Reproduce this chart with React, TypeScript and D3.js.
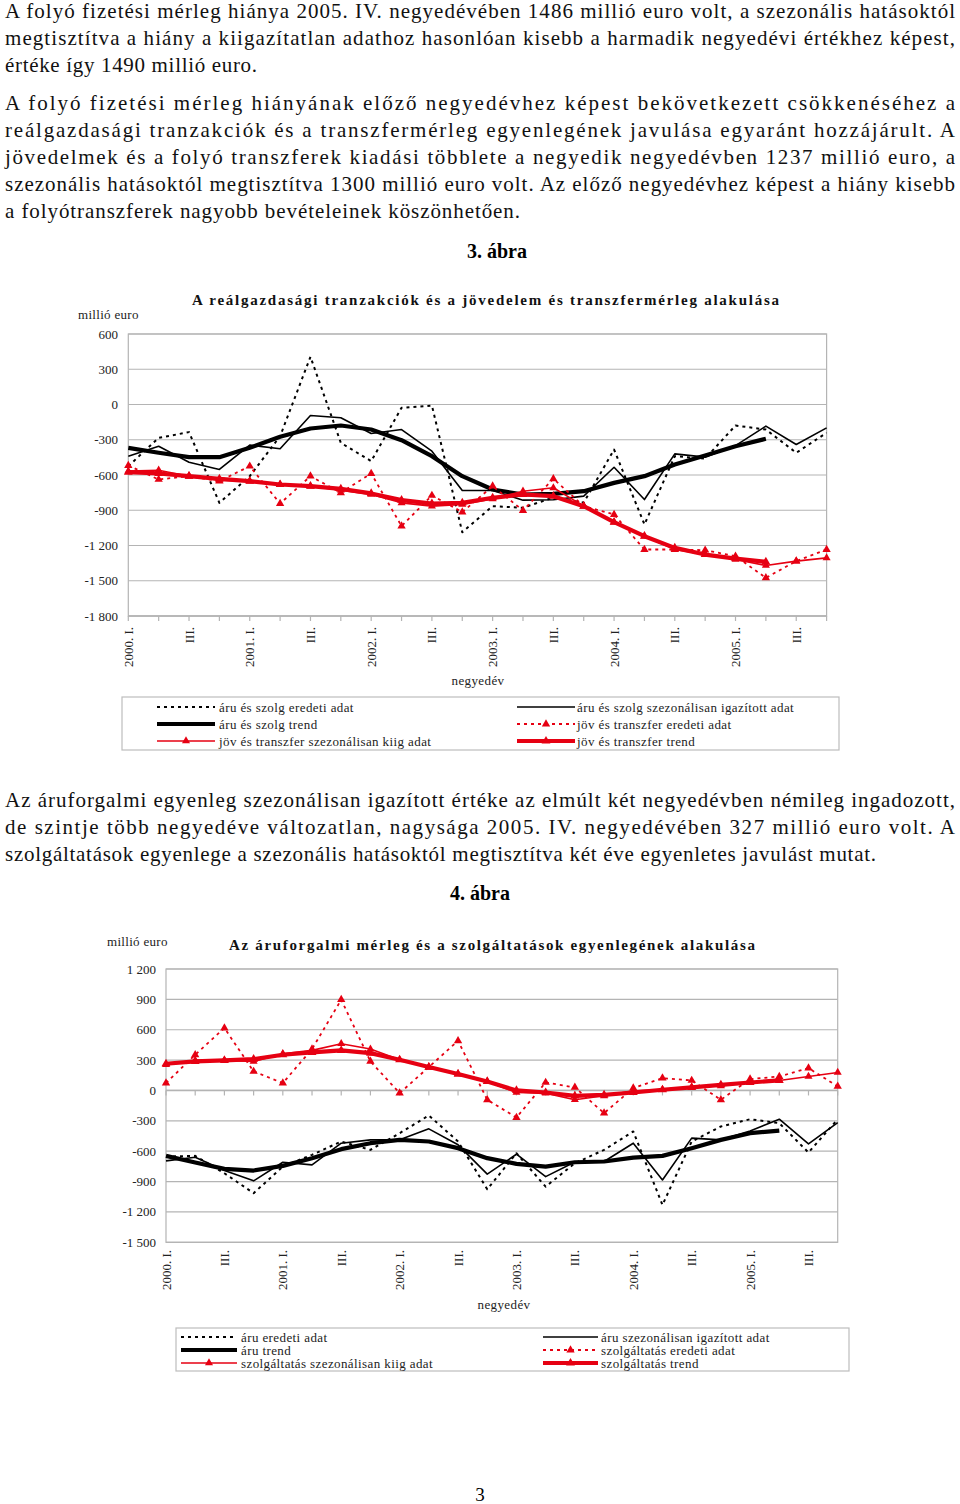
import React from "react";
import * as d3 from "d3";

// ---------- categories ----------
const years = ["2000", "2001", "2002", "2003", "2004", "2005"];
const quarterNames = ["I", "II", "III", "IV"];
const quarterKeys: string[] = years.flatMap((y) => quarterNames.map((q) => `${y}Q${q}`));
const xTickLabels = [
  "2000. I.", "III.", "2001. I.", "III.", "2002. I.", "III.",
  "2003. I.", "III.", "2004. I.", "III.", "2005. I.", "III.",
];

// ---------- chart 3 (ábra) data ----------
const c1Ticks = [600, 300, 0, -300, -600, -900, -1200, -1500, -1800];
const c1TickLabels = ["600", "300", "0", "-300", "-600", "-900", "-1 200", "-1 500", "-1 800"];
const aruSzolgEredeti = [-525, -284, -235, -837, -610, -270, 406, -326, -482, -28, -9, -1087, -865, -879, -792, -835, -383, -1021, -440, -460, -179, -213, -411, -241];
const aruSzolgSA = [-440, -355, -491, -553, -346, -377, -94, -113, -247, -213, -397, -732, -732, -814, -810, -780, -534, -809, -420, -448, -350, -184, -340, -199];
const aruSzolgTrend = [-369, -411, -448, -448, -369, -275, -204, -179, -213, -304, -440, -610, -723, -766, -760, -738, -667, -610, -511, -434, -355, -292];
const jovEredeti = [-519, -638, -610, -652, -525, -843, -610, -751, -587, -1035, -774, -916, -695, -902, -632, -865, -936, -1234, -1234, -1240, -1291, -1475, -1333, -1234];
const jovSA = [-567, -559, -610, -644, -652, -681, -695, -729, -766, -837, -865, -851, -803, -738, -709, -865, -1001, -1121, -1234, -1277, -1319, -1370, -1333, -1305];
const jovTrend = [-576, -587, -610, -633, -652, -681, -695, -718, -757, -814, -843, -837, -794, -766, -780, -865, -1001, -1121, -1220, -1277, -1311, -1339];

// ---------- chart 4 (ábra) data ----------
const c2Ticks = [1200, 900, 600, 300, 0, -300, -600, -900, -1200, -1500];
const c2TickLabels = ["1 200", "900", "600", "300", "0", "-300", "-600", "-900", "-1 200", "-1 500"];
const aruEredeti = [-653, -646, -818, -1015, -752, -636, -504, -587, -422, -247, -504, -976, -620, -950, -719, -587, -405, -1131, -504, -356, -284, -323, -613, -284];
const aruSA = [-696, -659, -791, -893, -709, -735, -521, -488, -488, -379, -537, -827, -630, -851, -706, -702, -521, -884, -471, -488, -400, -284, -528, -317];
const aruTrend = [-646, -712, -775, -791, -745, -669, -580, -521, -488, -504, -570, -669, -725, -752, -709, -702, -663, -646, -570, -488, -422, -396];
const szolgEredeti = [73, 353, 617, 188, 73, 409, 897, 287, -26, 231, 491, -92, -267, 79, 30, -224, 23, 122, 99, -92, 112, 138, 221, 40];
const szolgSA = [254, 297, 297, 287, 363, 396, 462, 409, 303, 231, 165, 89, -20, -26, -92, -53, -3, 7, 30, 46, 79, 99, 138, 178];
const szolgTrend = [264, 287, 297, 310, 353, 376, 396, 369, 303, 231, 162, 89, 0, -20, -53, -43, -20, 7, 30, 56, 79, 99];

// ---------- styles ----------
const RED = "#e60012";
const GRID = "#b4b4b4";
const SERIF = "'Liberation Serif', 'DejaVu Serif', serif";

type Kind = "dotBlack" | "thinBlack" | "thickBlack" | "dashRed" | "thinRed" | "thickRed";
const kindStyle: Record<Kind, { stroke: string; width: number; dash?: string; marker: boolean; msize: number }> = {
  dotBlack: { stroke: "#000", width: 2, dash: "3,4", marker: false, msize: 0 },
  thinBlack: { stroke: "#000", width: 1.6, marker: false, msize: 0 },
  thickBlack: { stroke: "#000", width: 4.2, marker: false, msize: 0 },
  dashRed: { stroke: RED, width: 1.8, dash: "3,4", marker: true, msize: 30 },
  thinRed: { stroke: RED, width: 1.6, marker: true, msize: 28 },
  thickRed: { stroke: RED, width: 4.2, marker: true, msize: 34 },
};

type Series = { name: string; kind: Kind; values: number[] };

const c1Series: Series[] = [
  { name: "áru és szolg eredeti adat", kind: "dotBlack", values: aruSzolgEredeti },
  { name: "áru és szolg szezonálisan igazított adat", kind: "thinBlack", values: aruSzolgSA },
  { name: "áru és szolg trend", kind: "thickBlack", values: aruSzolgTrend },
  { name: "jöv és transzfer eredeti adat", kind: "dashRed", values: jovEredeti },
  { name: "jöv és transzfer szezonálisan kiig adat", kind: "thinRed", values: jovSA },
  { name: "jöv és transzfer trend", kind: "thickRed", values: jovTrend },
];
const c2Series: Series[] = [
  { name: "áru eredeti adat", kind: "dotBlack", values: aruEredeti },
  { name: "áru szezonálisan igazított adat", kind: "thinBlack", values: aruSA },
  { name: "áru trend", kind: "thickBlack", values: aruTrend },
  { name: "szolgáltatás eredeti adat", kind: "dashRed", values: szolgEredeti },
  { name: "szolgáltatás szezonálisan kiig adat", kind: "thinRed", values: szolgSA },
  { name: "szolgáltatás trend", kind: "thickRed", values: szolgTrend },
];

const triangle = d3.symbol().type(d3.symbolTriangle);

type ChartProps = {
  left: number; right: number; top: number; bottom: number;
  yTicks: number[]; yTickLabels: string[]; axisValue: number;
  series: Series[]; yLabelX: number; xLabelTop: number;
};

function LineChart(p: ChartProps) {
  const x = d3.scalePoint<string>().domain(quarterKeys).range([p.left, p.right]).padding(0);
  const y = d3.scaleLinear().domain([d3.min(p.yTicks)!, d3.max(p.yTicks)!]).range([p.bottom, p.top]);
  const ay = y(p.axisValue);
  return (
    <g>
      {p.yTicks.map((t) => (
        <line key={"g" + t} x1={p.left} x2={p.right} y1={y(t)} y2={y(t)} stroke={GRID} strokeWidth={1.2} />
      ))}
      <rect x={p.left} y={p.top} width={p.right - p.left} height={p.bottom - p.top} fill="none" stroke={GRID} strokeWidth={1.2} />
      <line x1={p.left} x2={p.right} y1={ay} y2={ay} stroke={GRID} strokeWidth={1.4} />
      {quarterKeys.map((k) => (
        <line key={"t" + k} x1={x(k)} x2={x(k)} y1={ay} y2={ay + 5} stroke={GRID} strokeWidth={1.2} />
      ))}
      {p.yTicks.map((t, i) => (
        <text key={"yl" + t} x={p.yLabelX} y={y(t)} dy="0.35em" textAnchor="end" fontSize={13} fontFamily={SERIF} fill="#222">
          {p.yTickLabels[i]}
        </text>
      ))}
      {xTickLabels.map((lab, i) => {
        const xx = x(quarterKeys[i * 2])!;
        return (
          <text key={"xl" + i} transform={`translate(${xx},${p.xLabelTop}) rotate(-90)`} dy="0.35em" textAnchor="end" fontSize={13} fontFamily={SERIF} fill="#222">
            {lab}
          </text>
        );
      })}
      {p.series.map((s) => {
        const st = kindStyle[s.kind];
        const line = d3.line<number>().x((_, i) => x(quarterKeys[i])!).y((d) => y(d));
        return (
          <g key={s.name}>
            <path d={line(s.values) || ""} fill="none" stroke={st.stroke} strokeWidth={st.width} strokeDasharray={st.dash} strokeLinejoin="round" />
            {st.marker &&
              s.values.map((v, i) => (
                <path key={i} d={triangle.size(st.msize)() || ""} transform={`translate(${x(quarterKeys[i])},${y(v)})`} fill={RED} />
              ))}
          </g>
        );
      })}
    </g>
  );
}

type LegendProps = { x: number; y: number; w: number; h: number; rows: number[]; cols: { s0: number; s1: number; tx: number }[]; series: Series[] };
function Legend(p: LegendProps) {
  // series order: left column items 0,2,4 ; right column 1,3,5
  return (
    <g>
      <rect x={p.x} y={p.y} width={p.w} height={p.h} fill="#fff" stroke="#bdbdbd" strokeWidth={1.2} />
      {p.series.map((s, i) => {
        const col = p.cols[i % 2];
        const ry = p.rows[Math.floor(i / 2)];
        const st = kindStyle[s.kind];
        const mx = (col.s0 + col.s1) / 2;
        return (
          <g key={s.name}>
            <line x1={col.s0} x2={col.s1} y1={ry} y2={ry} stroke={st.stroke} strokeWidth={st.width} strokeDasharray={st.dash} />
            {st.marker && <path d={triangle.size(st.msize)() || ""} transform={`translate(${mx},${ry})`} fill={RED} />}
            <text x={col.tx} y={ry} dy="0.35em" fontSize={13} letterSpacing={0.4} fontFamily={SERIF} fill="#222">
              {s.name}
            </text>
          </g>
        );
      })}
    </g>
  );
}

type Line = { t: string; y: number; w: number };
function Para({ lines }: { lines: Line[] }) {
  return (
    <g>
      {lines.map((l, i) => (
        <text key={i} x={5} y={l.y} fontSize={21} fontFamily={SERIF} fill="#111" textLength={l.w} lengthAdjust="spacing">
          {l.t}
        </text>
      ))}
    </g>
  );
}

const para1: Line[] = [
  { t: "A folyó fizetési mérleg hiánya 2005. IV. negyedévében 1486 millió euro volt, a szezonális hatásoktól", y: 18, w: 950 },
  { t: "megtisztítva a hiány a kiigazítatlan adathoz hasonlóan kisebb a harmadik negyedévi értékhez képest,", y: 45, w: 950 },
  { t: "értéke így 1490 millió euro.", y: 72, w: 252 },
];
const para2: Line[] = [
  { t: "A folyó fizetési mérleg hiányának előző negyedévhez képest bekövetkezett csökkenéséhez a", y: 110, w: 950 },
  { t: "reálgazdasági tranzakciók és a transzfermérleg egyenlegének javulása egyaránt hozzájárult. A", y: 137, w: 950 },
  { t: "jövedelmek és a folyó transzferek kiadási többlete a negyedik negyedévben 1237 millió euro, a", y: 164, w: 950 },
  { t: "szezonális hatásoktól megtisztítva 1300 millió euro volt.  Az előző negyedévhez képest a hiány kisebb", y: 191, w: 950 },
  { t: "a folyótranszferek nagyobb bevételeinek köszönhetően.", y: 218, w: 515 },
];
const para3: Line[] = [
  { t: "Az áruforgalmi egyenleg szezonálisan igazított értéke az elmúlt két negyedévben némileg ingadozott,", y: 807, w: 950 },
  { t: "de szintje több negyedéve változatlan, nagysága 2005. IV. negyedévében 327 millió euro volt.  A", y: 834, w: 950 },
  { t: "szolgáltatások egyenlege a szezonális hatásoktól megtisztítva két éve egyenletes javulást mutat.", y: 861, w: 871 },
];

export default function App() {
  return (
    <svg width={960} height={1504} viewBox="0 0 960 1504" style={{ position: "absolute", left: 0, top: 0, background: "#fff" }}>
      <rect x={0} y={0} width={960} height={1504} fill="#fff" />
      <Para lines={para1} />
      <Para lines={para2} />
      <text x={497} y={258} textAnchor="middle" fontSize={20} fontWeight="bold" fontFamily={SERIF}>3. ábra</text>

      {/* chart 1 */}
      <text x={192} y={305} fontSize={15} fontWeight="bold" fontFamily={SERIF} textLength={587} lengthAdjust="spacing" fill="#111">
        A reálgazdasági tranzakciók és a jövedelem és transzfermérleg alakulása
      </text>
      <text x={78} y={319} fontSize={13} fontFamily={SERIF} letterSpacing={0.3} fill="#222">millió euro</text>
      <LineChart left={128.3} right={826.6} top={334} bottom={616} yTicks={c1Ticks} yTickLabels={c1TickLabels}
        axisValue={-1800} series={c1Series} yLabelX={118} xLabelTop={627} />
      <text x={478} y={680} dy="0.35em" textAnchor="middle" fontSize={13} letterSpacing={0.4} fontFamily={SERIF} fill="#222">negyedév</text>
      <Legend x={122} y={697} w={717} h={53} rows={[707, 724, 741]}
        cols={[{ s0: 157, s1: 215, tx: 219 }, { s0: 517, s1: 575, tx: 577 }]}
        series={[c1Series[0], c1Series[1], c1Series[2], c1Series[3], c1Series[4], c1Series[5]]} />

      <Para lines={para3} />
      <text x={480} y={900} textAnchor="middle" fontSize={20} fontWeight="bold" fontFamily={SERIF}>4. ábra</text>

      {/* chart 2 */}
      <text x={229} y={950} fontSize={15} fontWeight="bold" fontFamily={SERIF} textLength={526} lengthAdjust="spacing" fill="#111">
        Az áruforgalmi mérleg és a szolgáltatások egyenlegének alakulása
      </text>
      <text x={107} y={946} fontSize={13} fontFamily={SERIF} letterSpacing={0.3} fill="#222">millió euro</text>
      <LineChart left={166} right={837.7} top={969} bottom={1242.3} yTicks={c2Ticks} yTickLabels={c2TickLabels}
        axisValue={0} series={c2Series} yLabelX={156} xLabelTop={1250} />
      <text x={504} y={1304} dy="0.35em" textAnchor="middle" fontSize={13} letterSpacing={0.4} fontFamily={SERIF} fill="#222">negyedév</text>
      <Legend x={176} y={1328} w={673} h={43} rows={[1337, 1350, 1363]}
        cols={[{ s0: 181, s1: 237, tx: 241 }, { s0: 543, s1: 598, tx: 601 }]}
        series={c2Series} />

      <text x={480} y={1494} dy="0.35em" textAnchor="middle" fontSize={19} fontFamily={SERIF}>3</text>
    </svg>
  );
}
